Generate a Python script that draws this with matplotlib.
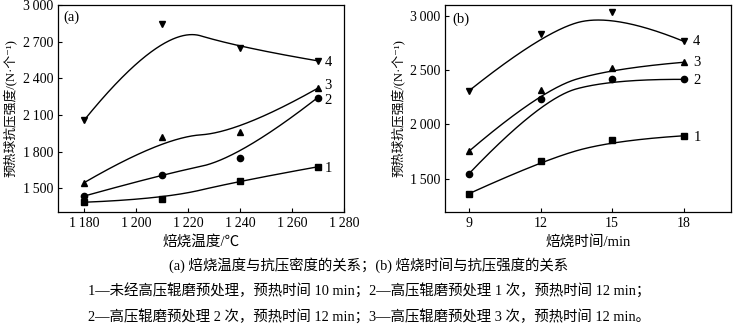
import numpy as np
import matplotlib
matplotlib.use("Agg")
import matplotlib.pyplot as plt

# ===============================
# Data
# ===============================
temp = [1180, 1210, 1240, 1270]
temp_s1 = [1385, 1410, 1560, 1675]
temp_s2 = [1435, 1612, 1745, 2242]
temp_s3 = [1544, 1915, 1958, 2318]
temp_s4 = [2054, 2842, 2651, 2542]

time = [9, 12, 15, 18]
time_s1 = [1365, 1663, 1853, 1896]
time_s2 = [1549, 2236, 2417, 2414]
time_s3 = [1755, 2316, 2515, 2571]
time_s4 = [2310, 2834, 3031, 2764]

series_labels = ["1", "2", "3", "4"]
markers = ["s", "o", "^", "v"]

temp_ticks = [1180, 1200, 1220, 1240, 1260, 1280]
temp_yticks = [1500, 1800, 2100, 2400, 2700, 3000]
time_ticks = [9, 12, 15, 18]
time_yticks = [1500, 2000, 2500, 3000]

ylabel = "预热球抗压强度/(N·个⁻¹)"
caption = ["(a) 焙烧温度与抗压密度的关系；(b) 焙烧时间与抗压强度的关系",
           "1—未经高压辊磨预处理，预热时间 10 min；2—高压辊磨预处理 1 次，预热时间 12 min；",
           "2—高压辊磨预处理 2 次，预热时间 12 min；3—高压辊磨预处理 3 次，预热时间 12 min。"]

FONT = ["Liberation Serif", "Noto Sans CJK SC", "DejaVu Sans"]
plt.rcParams["font.family"] = FONT


def bspline(x, y, n=200):
    # clamped quadratic B-spline with the data points as control points
    p = np.column_stack([x, y]).astype(float)
    ends = [p[0]] + [(p[i] + p[i + 1]) / 2 for i in range(1, len(p) - 2)] + [p[-1]]
    ctrl = p[1:-1]
    s = np.linspace(0, 1, n)[:, None]
    out = []
    for i in range(len(ctrl)):
        a, b, c = ends[i], ctrl[i], ends[i + 1]
        out.append((1 - s) ** 2 * a + 2 * s * (1 - s) * b + s ** 2 * c)
    out = np.vstack(out)
    return out[:, 0], out[:, 1]


def fmt(v):
    v = int(v)
    if v >= 1000:
        return "%d\u2009%03d" % (v // 1000, v % 1000)
    return str(v)


def draw(ax, x, ys, xticks, yticks, xlim, ylim, xlabel, tag, tag_pos, label_dx, label_dy):
    for y, m, lab, dy in zip(ys, markers, series_labels, label_dy):
        cx, cy = bspline(x, y)
        ax.plot(cx, cy, color="black", lw=1.0)
        ax.plot(x, y, m, color="black", ms=4.5, ls="none")
        ax.annotate(lab, (x[-1], y[-1]), xytext=(label_dx, dy), textcoords="offset points",
                    ha="left", va="center", fontsize=10.5)
    ax.set_xlim(*xlim)
    ax.set_ylim(*ylim)
    ax.set_xticks(xticks)
    ax.set_xticklabels([fmt(t) for t in xticks])
    ax.set_yticks(yticks)
    ax.set_yticklabels([fmt(t) for t in yticks])
    ax.tick_params(direction="in", length=3, labelsize=10, width=0.8)
    for sp in ax.spines.values():
        sp.set_linewidth(0.9)
    ax.set_xlabel(xlabel, fontsize=10.5, labelpad=4)
    ax.set_ylabel(ylabel, fontsize=9.2, labelpad=4)
    ax.text(tag_pos[0], tag_pos[1], tag, transform=ax.transAxes, ha="left", va="top", fontsize=10.5)


fig = plt.figure(figsize=(7.33, 3.26), dpi=100)
ax1 = fig.add_axes([0.079, 0.35, 0.390, 0.635])
ax2 = fig.add_axes([0.6075, 0.35, 0.390, 0.635])

draw(ax1, temp, [temp_s1, temp_s2, temp_s3, temp_s4], temp_ticks, temp_yticks,
     (1170, 1280), (1306, 3000), "焙烧温度/℃", "(a)", (0.018, 0.975),
     5, [-1, -2, 2, -1])
draw(ax2, time, [time_s1, time_s2, time_s3, time_s4], time_ticks, time_yticks,
     (8, 20), (1197, 3098), "焙烧时间/min", "(b)", (0.024, 0.965),
     7, [-1, -1, 0, 0])

ys = [0.187, 0.107, 0.030]
for txt, yy in zip(caption, ys):
    fig.text(0.503, yy, txt, ha="center", va="center", fontsize=10.4)

fig.savefig("out.png", dpi=100)
